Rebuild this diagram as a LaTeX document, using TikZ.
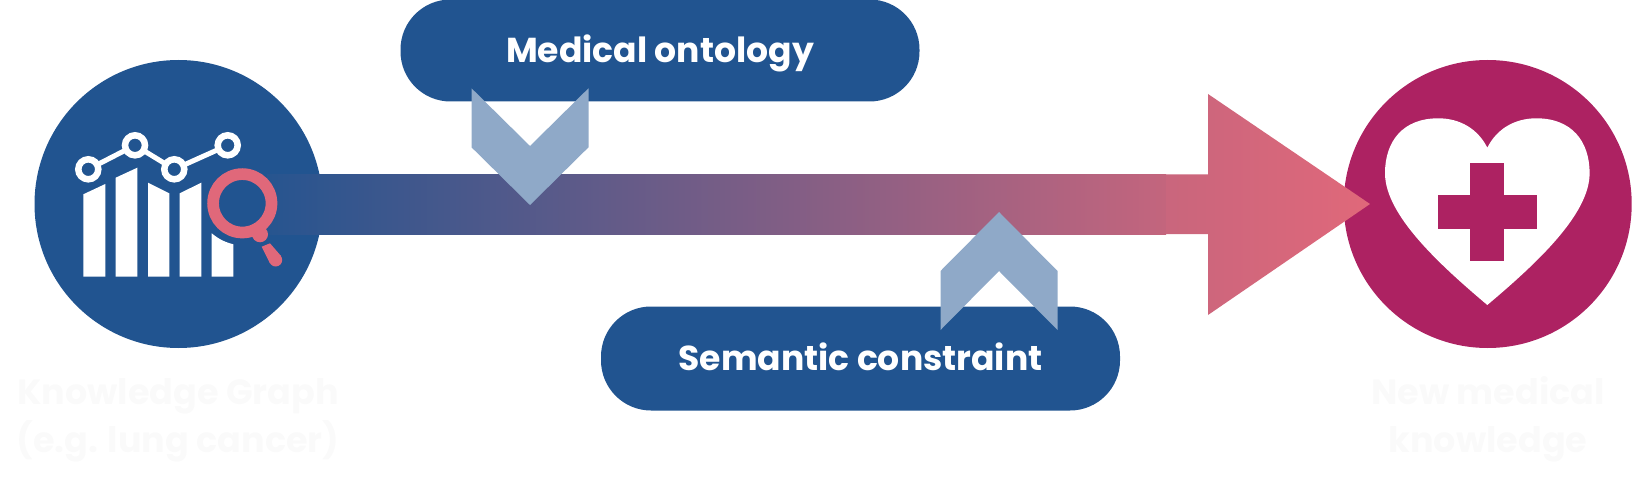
\documentclass[tikz,border=0pt]{standalone}
\usepackage{fontspec}
\setmainfont{Poppins}[BoldFont={Poppins Bold}]
\usetikzlibrary{math}
\definecolor{kgblue}{HTML}{215490}
\definecolor{newred}{HTML}{AD2262}
\definecolor{lensred}{HTML}{E0687A}
\definecolor{chevblue}{HTML}{8FA9C8}
\definecolor{faint}{HTML}{FAFAFA}
\tikzset{
  roundnode/.style={circle,minimum size=288,inner sep=0},
  pillbox/.style={fill=kgblue,rounded corners=50,minimum width=519,minimum height=102,inner sep=0,text=white,text height=24.3,text depth=0,font=\fontsize{34.6}{34.6}\selectfont\bfseries},
  faintlabel/.style={align=center,text=faint,inner sep=0,font=\fontsize{35}{48}\selectfont\bfseries},
  chevron/.style={fill=chevblue},
  ring/.style={draw=white,line width=6.5,fill=kgblue},
}
\begin{document}
\begin{tikzpicture}[x=1pt,y=-1pt]
\tikzmath{
\cy=204;
\ytop=174.3;
\ybot=234;
\cw=58.5;
\ch=59;
}
\useasboundingbox (0,0) rectangle (1638,481);

\node[roundnode,fill=kgblue] (graph) at (178.5,\cy) {};
\node[roundnode,fill=newred] (newk) at (1487.7,\cy) {};

\shade[left color=kgblue!97!lensred,right color=lensred!85!kgblue] (267,\ytop) rectangle (1166,\ybot);
\shade[left color=lensred!88!kgblue,right color=lensred] (1166,\ytop)--(1208,\ytop)--(1208,94)--(1370,\cy)--(1208,315)--(1208,\ybot)--(1166,\ybot)--cycle;

\node[pillbox] (ontology) at (660,50.5) {Medical ontology};
\node[pillbox,minimum height=104] (constraint) at (860.5,358.5) {Semantic constraint};

\fill[chevron] (530-\cw,88.3)--(530,146)--(530+\cw,88.3)--+(0,\ch)--(530,205)--(530-\cw,147.3)--cycle;
\fill[chevron] (999-\cw,330)--(999,271)--(999+\cw,330)--+(0,-\ch)--(999,212)--(999-\cw,271)--cycle;

% bars
\fill[white] (83.3,276.7)--(83.3,194.3)--(105.3,184)--(105.3,276.7)--cycle;
\fill[white] (115.7,276.7)--(115.7,177.7)--(137.3,167.7)--(137.3,276.7)--cycle;
\fill[white] (148,276.7)--(148,182.7)--(169.3,193.3)--(169.3,276.7)--cycle;
\fill[white] (179.7,276.7)--(179.7,193.3)--(201.3,182.7)--(201.3,276.7)--cycle;
\fill[white] (211.7,276.7)--(211.7,233.3) to[bend right=12] (233.3,244.3)--(233.3,276.7)--cycle;

\draw[white,line width=5] (88.3,169.3)--(135,145.3)--(174.3,169.3)--(227.7,145.3);
\foreach \x/\y in {88.3/169.3,135/145.3,174.3/169.3,227.7/145.3}{
\draw[ring] (\x,\y) circle (10);
}

% lens
\draw[lensred,line width=11.7] (242.3,203.3) circle (29.2);
\fill[lensred] (260,234.3) circle (8);
\fill[lensred] (261.7,246.7)--(270,243.3)--(281,256)--(270,263.5)--cycle;
\fill[lensred] (275.7,260) circle (6.5);

% heart
\fill[white] (1487.3,147.7) .. controls (1478,129) and (1460,118.3) .. (1438.3,118.3)
.. controls (1403,118.3) and (1385,141) .. (1385,173.3)
.. controls (1385,215) and (1440,265) .. (1487.3,305)
.. controls (1534.6,265) and (1589.6,215) .. (1589.6,173.3)
.. controls (1589.6,141) and (1571.6,118.3) .. (1536.3,118.3)
.. controls (1514.6,118.3) and (1496.6,129) .. (1487.3,147.7)--cycle;
\fill[newred] (1470.3,162.7) rectangle (1504.3,260.7);
\fill[newred] (1438.3,195) rectangle (1536.7,228.7);

\node[faintlabel,anchor=base] (graphlabel) at (178,452) {Knowledge Graph\\(e.g. lung cancer)};
\node[faintlabel,anchor=base] (newlabel) at (1488,452) {New medical\\knowledge};
\end{tikzpicture}
\end{document}
